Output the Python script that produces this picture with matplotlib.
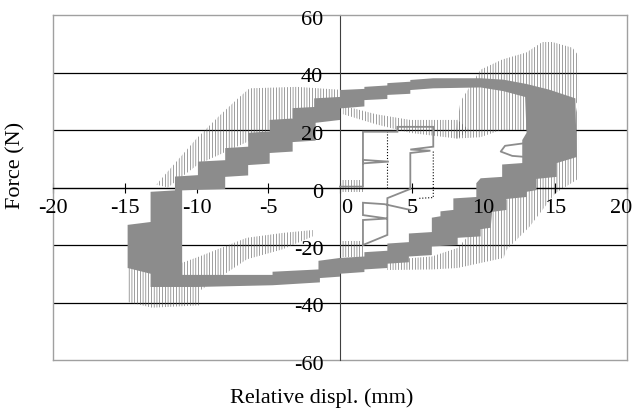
import matplotlib
matplotlib.use("Agg")
import matplotlib.pyplot as plt
from matplotlib.path import Path
from matplotlib.patches import PathPatch

plt.rcParams['font.family'] = ['Liberation Serif', 'DejaVu Serif']
plt.rcParams['hatch.linewidth'] = 0.4

# ---------------- data ----------------
x_ticks = [-20, -15, -10, -5, 0, 5, 10, 15, 20]
x_labels = ['-20', '-15', '-10', '-5', '0', '5', '10', '15', '20']
y_ticks = [-60, -40, -20, 0, 20, 40, 60]
y_labels = ['-60', '-40', '-20', '0', '20', '40', '60']
grid_y = [-40, -20, 20, 40]

# gray hysteresis band (many overlapping cycles): outer and inner contour
band_outer_x = [-14.8, -14.8, -13.2, -13.2, -11.5, -11.5, -9.9, -9.9, -8.0, -8.0, -6.4, -6.4,
                -4.9, -4.9, -3.3, -3.3, -1.8, -1.8, 0.0, 0.0, 1.7, 1.7, 3.3, 3.3, 4.9, 4.9,
                6.5, 9.8, 11.4, 13.0, 14.6, 16.4, 16.5, 15.1, 15.1, 13.7, 13.7, 13.0, 13.0,
                11.6, 11.6, 10.6, 10.5, 9.8, 9.8, 8.2, 8.2, 6.4, 6.4, 4.8, 4.8, 3.3, 3.3,
                1.7, 1.7, 0.0, 0.0, -1.4, -1.4, -4.7, -10.0, -13.2, -13.2]
band_outer_y = [-28.0, -13.0, -12.0, -1.5, -1.0, 3.8, 4.3, 9.0, 9.5, 13.7, 14.2, 19.0,
                19.5, 23.5, 24.0, 27.6, 28.0, 31.0, 31.5, 33.9, 34.3, 35.0, 35.5, 36.3, 36.8, 37.4,
                38.0, 38.0, 37.5, 36.0, 34.0, 31.0, 10.6, 8.5, 3.7, 3.0, -0.9, -1.5, -3.3,
                -4.0, -7.8, -8.5, -14.0, -14.5, -17.0, -17.5, -20.0, -20.5, -23.5, -24.0, -26.0, -26.5, -28.0,
                -28.5, -29.4, -30.0, -31.0, -31.5, -33.0, -34.0, -34.6, -34.6, -30.0]
band_inner_x = [-11.0, -11.0, -8.0, -8.0, -6.4, -6.4, -4.9, -4.9, -3.3, -3.3, -1.7, -1.7,
                0.0, 0.0, 1.7, 1.7, 3.3, 3.3, 4.9, 4.9, 6.5, 9.8, 11.4, 12.9, 13.0, 12.7,
                12.7, 11.3, 11.3, 9.8, 9.5, 9.5, 7.9, 7.9, 7.0, 7.0, 6.4, 6.4, 4.8, 4.8,
                3.3, 3.3, 1.7, 1.7, 0.0, -1.5, -1.5, -4.7, -4.7, -11.0]
band_inner_y = [-29.8, -1.0, -0.5, 3.7, 4.2, 7.8, 8.3, 12.0, 12.5, 15.8, 16.3, 22.5,
                23.5, 27.5, 28.2, 30.4, 30.8, 32.2, 32.6, 33.9, 34.5, 34.8, 33.5, 31.5, 19.0, 16.5,
                8.5, 8.0, 3.7, 3.2, 1.5, -3.3, -3.8, -7.8, -8.3, -10.0, -10.5, -15.5, -16.0, -19.0,
                -19.5, -22.0, -22.5, -24.0, -24.5, -25.5, -28.5, -29.3, -30.4, -30.4]

# gray thin start-up transient and spike
trans_x = [0.0, 1.6, 1.6, 3.4, 1.6, 1.6, 4.0, 4.0, 6.5, 6.5, 4.9, 6.3, 4.9, 4.9, 3.3, 3.3,
           1.6, 1.6, 3.3, 1.6, 1.6, 3.1, 4.9]
trans_y = [0.3, 0.3, 9.6, 9.0, 8.4, 19.4, 19.4, 21.1, 21.1, 14.2, 13.2, 12.8, 12.0, -0.5, -3.7, -16.5,
           -20.0, -11.3, -10.8, -9.6, -5.3, -5.8, -7.8]
spike_x = [13.0, 11.5, 11.2, 12.0, 13.0]
spike_y = [15.5, 14.5, 12.5, 11.0, 10.6]

# black dotted series (dense vertical oscillations), as regions
dot_ul_x = [-12.8, -11.4, -10.0, -8.4, -7.0, -6.3, -3.0, 0.0, 0.5, -3.0, -6.4, -9.9, -12.0]
dot_ul_y = [1.0, 9.0, 17.0, 25.0, 31.5, 34.5, 35.0, 34.0, 28.0, 25.0, 16.0, 8.0, 0.0]
dot_mid_x = [0.2, 2.5, 4.9, 8.2, 9.0, 8.2, 4.9, 2.5, 0.2]
dot_mid_y = [28.5, 25.5, 23.5, 23.5, 20.0, 17.0, 19.0, 22.0, 25.5]
dot_ur_x = [8.0, 8.4, 9.8, 11.3, 13.0, 14.1, 14.8, 16.2, 16.6, 16.6, 14.6, 11.2, 9.8]
dot_ur_y = [17.0, 30.0, 41.0, 44.5, 47.0, 50.6, 50.6, 48.6, 46.0, 30.0, 20.0, 20.0, 17.5]
dot_lr_x = [16.6, 16.6, 15.0, 14.8, 13.2, 11.6, 11.4, 8.2, 6.4, 3.3, 3.3, 6.4, 8.2, 9.8,
            11.6, 12.8, 12.8, 14.6, 16.4]
dot_lr_y = [30.0, 3.0, -2.0, -3.3, -13.7, -21.7, -24.5, -28.0, -28.5, -28.7, -25.2, -24.0, -21.0, -12.0,
            -4.3, 0.0, 10.0, 20.0, 25.0]
dot_ll_x = [-1.9, -4.0, -6.5, -9.8, -13.1, -14.8, -14.8, -13.1, -9.8, -9.8, -6.5, -4.0, -1.9]
dot_ll_y = [-14.8, -15.8, -17.5, -24.0, -30.0, -27.5, -39.8, -41.8, -41.0, -36.0, -25.0, -21.5, -17.0]
dot_o1_x = [0.0, 1.6, 1.6, 0.0]
dot_o1_y = [2.6, 2.6, -1.5, -1.5]
dot_o2_x = [0.0, 1.6, 1.6, 0.0]
dot_o2_y = [-18.5, -18.5, -24.0, -24.0]
dline1_x = [3.3, 3.3]
dline1_y = [0.0, 19.5]
dline2_x = [6.5, 6.5, 5.4]
dline2_y = [12.5, -3.5, -3.8]

# ---------------- figure ----------------
W, H = 634, 418
fig = plt.figure(figsize=(W / 100, H / 100), dpi=100)
ax = fig.add_axes([53 / W, 1 - 360 / H, 574 / W, 345 / H])
ax.set_xlim(-20, 20)
ax.set_ylim(-60, 60)

border = '#a0a0a0'
for s in ['top', 'right']:
    ax.spines[s].set_color(border)
    ax.spines[s].set_linewidth(1.0)
ax.spines['bottom'].set_position(('data', 0))
ax.spines['bottom'].set_color('black')
ax.spines['bottom'].set_linewidth(1.0)
ax.spines['left'].set_position(('data', 0))
ax.spines['left'].set_color('#404040')
ax.spines['left'].set_linewidth(0.8)
ax.axvline(-20, color=border, lw=1.0, clip_on=False, zorder=2.5)
ax.axhline(-60, color=border, lw=1.0, clip_on=False, zorder=2.5)

for gy in grid_y:
    ax.axhline(gy, color='black', lw=0.9, zorder=1)

ax.set_xticks(x_ticks)
ax.set_yticks(y_ticks)
ax.tick_params(axis='x', direction='inout', length=7, width=0.8, colors='black',
               labelbottom=False)
ax.tick_params(axis='y', length=0, labelleft=False)

# tick labels as text
x_dx = {'0': 5, '20': -4}
for v, lab in zip(x_ticks, x_labels):
    ax.annotate(lab, (v, 0), xytext=(x_dx.get(lab, 0), -18.5), textcoords='offset points',
                ha='center', va='baseline', fontsize=16, annotation_clip=False, zorder=6)
for v, lab in zip(y_ticks, y_labels):
    ax.annotate(lab, (0, v), xytext=(-12, -7.2), textcoords='offset points',
                ha='right', va='baseline', fontsize=16, annotation_clip=False, zorder=6)

fig.text(16 / W, 1 - 165 / H, 'Force (N)', rotation=90, ha='center', va='center', fontsize=16)
fig.text(322 / W, 1 - 398 / H, 'Relative displ. (mm)', ha='center', va='center', fontsize=16)

# dotted series regions
for xs, ys in [(dot_ul_x, dot_ul_y), (dot_mid_x, dot_mid_y), (dot_ur_x, dot_ur_y),
               (dot_lr_x, dot_lr_y), (dot_ll_x, dot_ll_y), (dot_o1_x, dot_o1_y),
               (dot_o2_x, dot_o2_y)]:
    ax.fill(xs, ys, facecolor='none', edgecolor='#555555', linewidth=0,
            hatch='||||||', zorder=2)
ax.plot(dline1_x, dline1_y, color='black', lw=0.8, ls=':', zorder=2)
ax.plot(dline2_x, dline2_y, color='black', lw=0.8, ls=':', zorder=2)

# thin gray lines
gray = '#8c8c8c'
ax.plot(trans_x, trans_y, color=gray, lw=1.3, zorder=3, solid_joinstyle='miter')
ax.plot(spike_x, spike_y, color=gray, lw=1.3, zorder=3)

# band ring
outer = list(zip(band_outer_x, band_outer_y))
inner = list(zip(band_inner_x, band_inner_y))[::-1]
verts = outer + [outer[0]] + inner + [inner[0]]
codes = ([Path.MOVETO] + [Path.LINETO] * (len(outer) - 1) + [Path.CLOSEPOLY] +
         [Path.MOVETO] + [Path.LINETO] * (len(inner) - 1) + [Path.CLOSEPOLY])
ax.add_patch(PathPatch(Path(verts, codes), facecolor=gray, edgecolor='none', zorder=3))

fig.savefig('out.png', dpi=100)
